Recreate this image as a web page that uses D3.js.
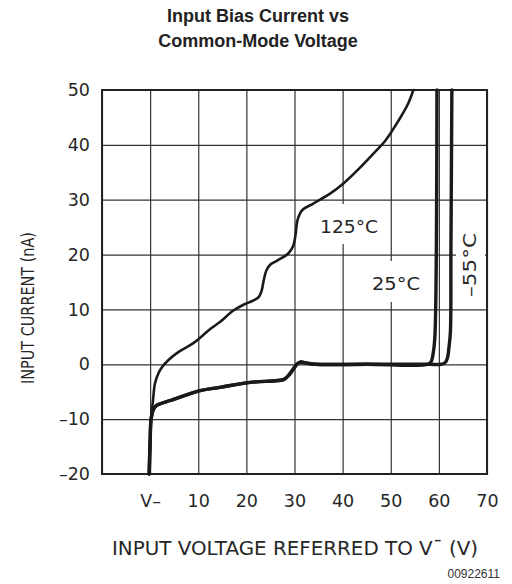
<!DOCTYPE html>
<html>
<head>
<meta charset="utf-8">
<script src="https://cdn.jsdelivr.net/npm/d3@7"></script>
<style>
  html, body { margin: 0; padding: 0; background: #fff; }
  svg { display: block; }
</style>
</head>
<body>
<div id="chart"></div>
<script>
// ---- Data ----
const titleLines = ["Input Bias Current vs", "Common-Mode Voltage"];
const xTicks = [-10, 0, 10, 20, 30, 40, 50, 60, 70];
const xTickLabels = ["", "V\u2013", "10", "20", "30", "40", "50", "60", "70"];
const yTicks = [-20, -10, 0, 10, 20, 30, 40, 50];
const yTickLabels = ["\u201320", "\u201310", "0", "10", "20", "30", "40", "50"];
const xTitle = "INPUT VOLTAGE REFERRED TO V\u00AF (V)";
const yTitle = "INPUT CURRENT (nA)";
const figId = "00922611";

const seriesNames = ["125\u00B0C", "25\u00B0C", "\u201355\u00B0C"];
const x125 = [-0.2, 0, 0.2, 0.6, 1.0, 1.8, 2.5, 3.7, 6, 8.9, 11, 12.9, 14.5, 17.3, 19.5, 21.4, 22.6, 23.2, 23.6, 24.2, 25.0, 26.4, 28.7, 29.7, 30.2, 30.6, 31.6, 33.9, 37.4, 40.1, 43, 46.4, 48.9, 51.6, 53.6, 54.7];
const y125 = [-20, -14, -10, -6.6, -3.5, -1.5, -0.5, 0.7, 2.3, 3.8, 5.3, 6.7, 7.7, 9.8, 10.9, 11.6, 12.3, 13.5, 15.3, 17.2, 18.2, 18.9, 20.2, 21.5, 23.5, 26.2, 28.1, 29.3, 31.1, 32.9, 35.3, 38.4, 40.8, 44.4, 47.5, 50];
const x25 = [-0.2, 0, 0.2, 0.6, 1.2, 2.1, 4.2, 10.4, 14.5, 20.8, 26, 27.7, 28.8, 29.8, 30.5, 31.2, 32.6, 34.3, 45, 57.8, 58.4, 58.9, 59.2, 59.6];
const y25 = [-20, -14, -10, -8.4, -7.6, -7.2, -6.6, -4.8, -4.2, -3.3, -3.0, -2.8, -2.0, -0.8, 0, 0.4, 0.2, 0, 0, 0, 0.5, 2.5, 5.6, 50];
const x55 = [-0.2, 0, 0.2, 0.6, 1.2, 2.1, 4.2, 10.4, 14.5, 20.8, 26, 27.7, 28.8, 29.8, 30.5, 31.2, 32.6, 34.3, 45, 58, 60.5, 61.3, 61.8, 62.1, 62.4, 62.5, 62.7];
const y55 = [-20, -14, -10, -8.4, -7.6, -7.2, -6.6, -4.8, -4.2, -3.3, -3.0, -2.8, -2.0, -0.8, 0, 0.4, 0.2, 0, 0, 0, 0, 0.3, 1.2, 3.1, 6, 20, 50];

// ---- Layout ----
const W = 512, H = 584;
const plot = { left: 102, top: 90, right: 487, bottom: 474 };
const font = "'Liberation Sans', Arial, sans-serif";
const cad = "'DejaVu Sans', 'Liberation Sans', sans-serif";
const ink = "#262626";

const svg = d3.select("#chart").append("svg").attr("width", W).attr("height", H);

const x = d3.scaleLinear().domain([-10, 70]).range([plot.left, plot.right]);
const y = d3.scaleLinear().domain([-20, 50]).range([plot.bottom, plot.top]);

// Title
svg.append("text")
  .attr("x", 258).attr("text-anchor", "middle")
  .attr("font-family", font).attr("font-weight", "bold").attr("font-size", 18)
  .attr("fill", "#222")
  .selectAll("tspan").data(titleLines).join("tspan")
  .attr("x", 258).attr("y", (d, i) => 22 + i * 25).text(d => d);

// Grid + tick labels via axes
const gx = svg.append("g").attr("transform", `translate(0,${plot.bottom})`)
  .call(d3.axisBottom(x).tickValues(xTicks)
    .tickSize(-(plot.bottom - plot.top)).tickPadding(21)
    .tickFormat((d, i) => xTickLabels[i]));
const gy = svg.append("g").attr("transform", `translate(${plot.left},0)`)
  .call(d3.axisLeft(y).tickValues(yTicks)
    .tickSize(-(plot.right - plot.left)).tickPadding(12)
    .tickFormat((d, i) => yTickLabels[i]));
[gx, gy].forEach(g => {
  g.select(".domain").remove();
  g.selectAll(".tick line").attr("stroke", "#333").attr("stroke-width", 1.2);
  g.selectAll(".tick text").attr("font-family", cad).attr("font-size", 17.5)
    .attr("fill", ink);
});

// Label backgrounds (gridline gaps)
const bgs = [
  { x: 316, y: 204, w: 66, h: 40 },
  { x: 368, y: 261, w: 56, h: 41 },
  { x: 456, y: 228, w: 29, h: 74 }
];
svg.append("g").selectAll("rect").data(bgs).join("rect")
  .attr("x", d => d.x).attr("y", d => d.y).attr("width", d => d.w).attr("height", d => d.h)
  .attr("fill", "#fff");

// Frame
svg.append("rect")
  .attr("x", plot.left).attr("y", plot.top)
  .attr("width", plot.right - plot.left).attr("height", plot.bottom - plot.top)
  .attr("fill", "none").attr("stroke", "#222").attr("stroke-width", 2);

// Curves
const line = d3.line().x(d => x(d[0])).y(d => y(d[1])).curve(d3.curveCatmullRom.alpha(0.5));
const series = [
  { xs: x25, ys: y25, w: 3.4 },
  { xs: x55, ys: y55, w: 3.4 },
  { xs: x125, ys: y125, w: 2.6 }
];
svg.append("g").selectAll("path").data(series).join("path")
  .attr("d", s => line(d3.zip(s.xs, s.ys)))
  .attr("fill", "none").attr("stroke", "#1a1a1a")
  .attr("stroke-width", s => s.w).attr("stroke-linejoin", "round").attr("stroke-linecap", "round");

// Curve labels
svg.append("text").attr("x", 349).attr("y", 233).attr("text-anchor", "middle")
  .attr("font-family", cad).attr("font-size", 17.5).attr("fill", ink)
  .attr("textLength", 58).attr("lengthAdjust", "spacingAndGlyphs").text(seriesNames[0]);
svg.append("text").attr("x", 396).attr("y", 290).attr("text-anchor", "middle")
  .attr("font-family", cad).attr("font-size", 17.5).attr("fill", ink)
  .attr("textLength", 48).attr("lengthAdjust", "spacingAndGlyphs").text(seriesNames[1]);
svg.append("text").attr("transform", "translate(476,265) rotate(-90)").attr("text-anchor", "middle")
  .attr("font-family", cad).attr("font-size", 17.5).attr("fill", ink)
  .attr("textLength", 64).attr("lengthAdjust", "spacingAndGlyphs").text(seriesNames[2]);

// Axis titles
svg.append("text").attr("x", 112).attr("y", 555)
  .attr("font-family", cad).attr("font-size", 20).attr("fill", ink)
  .attr("textLength", 366).attr("lengthAdjust", "spacingAndGlyphs")
  .text(xTitle);

svg.append("text").attr("transform", "translate(34,308) rotate(-90)").attr("text-anchor", "middle")
  .attr("font-family", cad).attr("font-size", 18).attr("fill", ink)
  .attr("textLength", 152).attr("lengthAdjust", "spacingAndGlyphs")
  .text(yTitle);

// Figure id
svg.append("text").attr("x", 500).attr("y", 578).attr("text-anchor", "end")
  .attr("font-family", font).attr("font-size", 12).attr("fill", "#333").text(figId);
</script>
</body>
</html>
